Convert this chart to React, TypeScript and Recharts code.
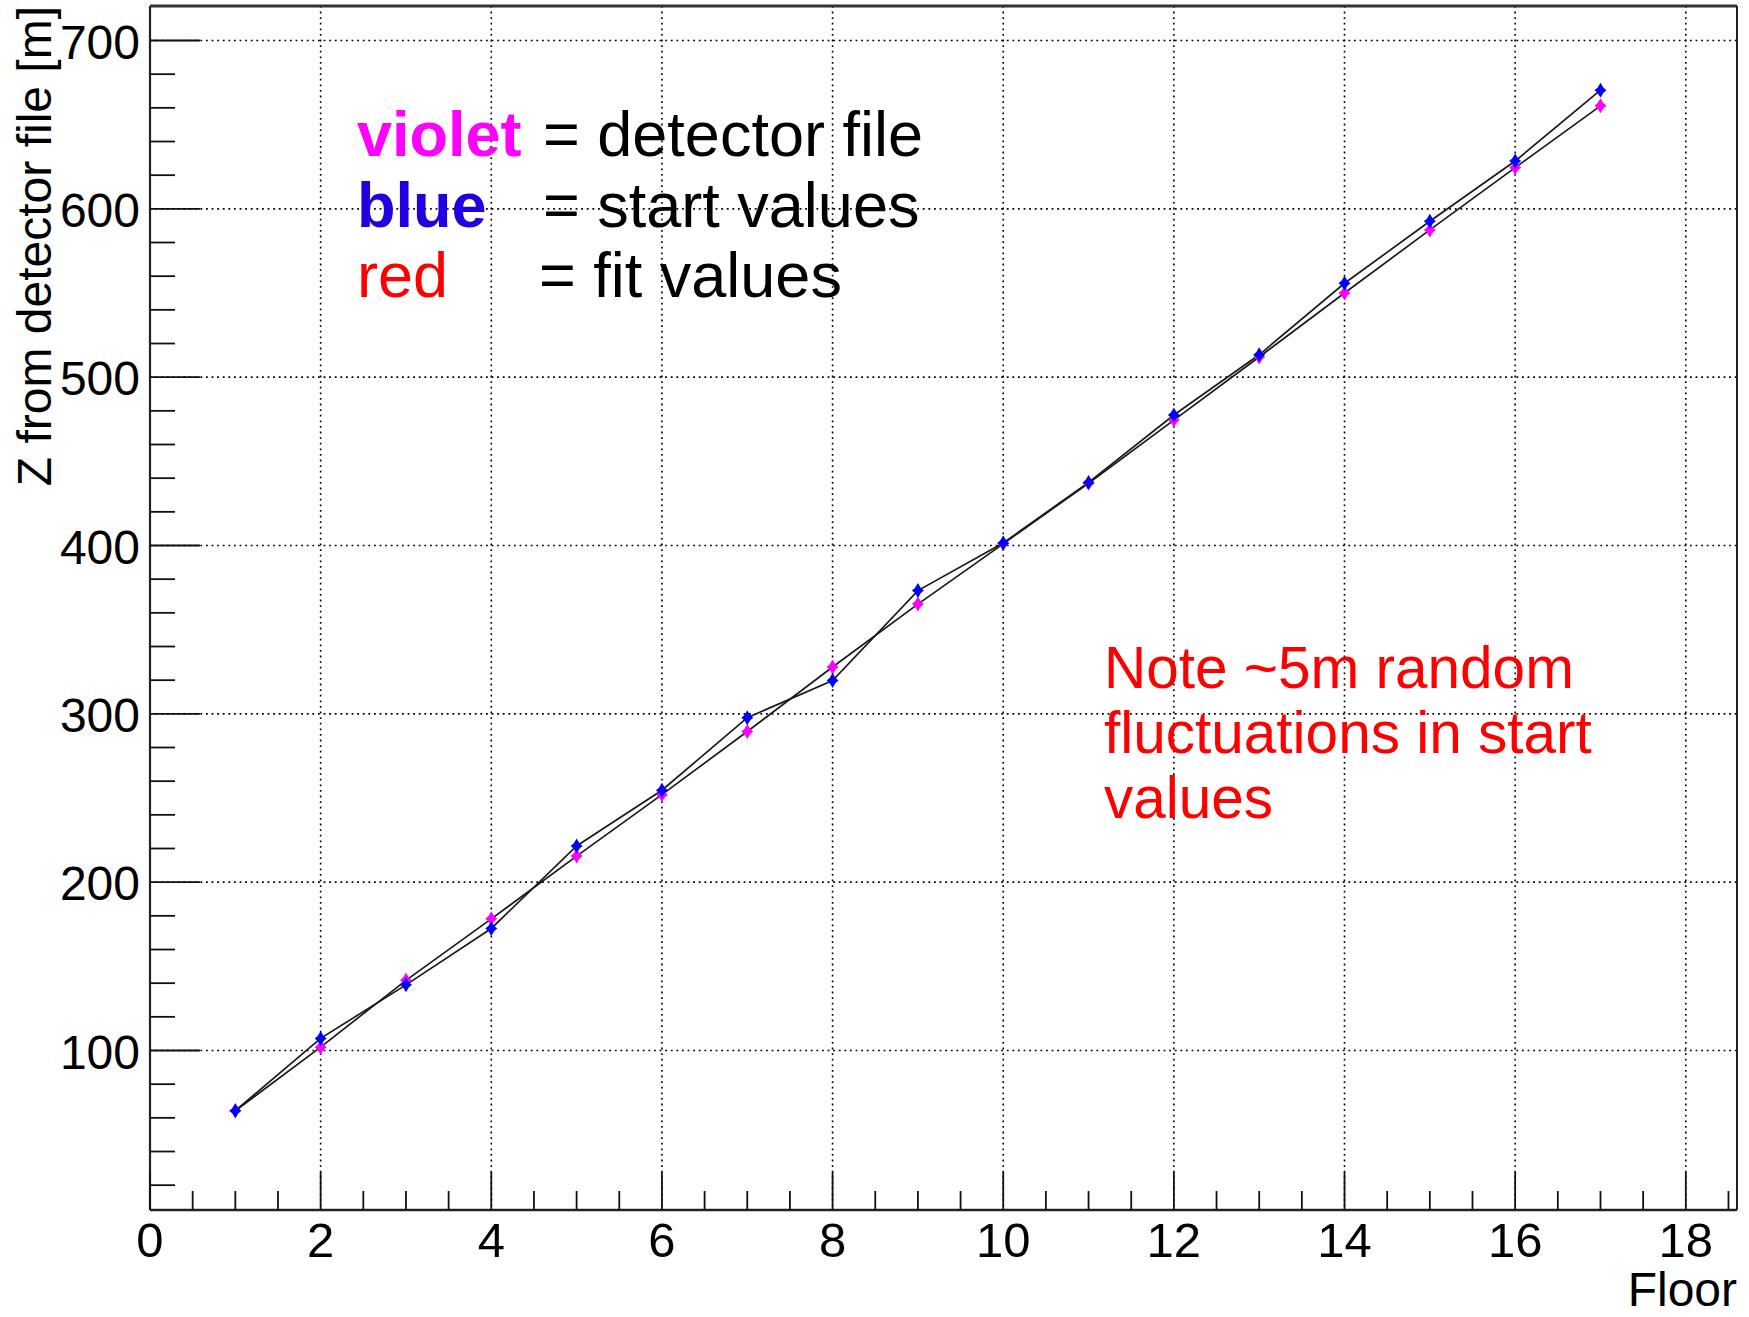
import React from 'react'
import {
  ComposedChart,
  Line,
  XAxis,
  YAxis,
  CartesianGrid,
  ReferenceLine,
} from 'recharts'

// etasje-nummer og Z-verdier lest av bildet
const floors = [1, 2, 3, 4, 5, 6, 7, 8, 9, 10, 11, 12, 13, 14, 15, 16, 17]
const detectorZ = [64.2, 102, 141.7, 178.2, 215.5, 252, 289.5, 327.8, 365.2, 401, 437, 474.5, 512, 550, 587.5, 624.5, 661.2]
const startZ = [64.2, 107.2, 139, 172.5, 221.5, 254.6, 297.7, 319.8, 373.2, 401.5, 437.5, 477.5, 513.3, 555.8, 592.6, 628.4, 670.5]

const xTicks = [0, 0.5, 1, 1.5, 2, 2.5, 3, 3.5, 4, 4.5, 5, 5.5, 6, 6.5, 7, 7.5, 8, 8.5, 9, 9.5, 10, 10.5, 11, 11.5, 12, 12.5, 13, 13.5, 14, 14.5, 15, 15.5, 16, 16.5, 17, 17.5, 18, 18.5]
const xMajor = [0, 2, 4, 6, 8, 10, 12, 14, 16, 18]
const yTicks = [20, 40, 60, 80, 100, 120, 140, 160, 180, 200, 220, 240, 260, 280, 300, 320, 340, 360, 380, 400, 420, 440, 460, 480, 500, 520, 540, 560, 580, 600, 620, 640, 660, 680, 700]
const yMajor = [100, 200, 300, 400, 500, 600, 700]

const X_DOMAIN: [number, number] = [0, 18.6]
const Y_DOMAIN: [number, number] = [5.25, 720.5]

const FONT = '"Liberation Sans", Arial, sans-serif'

const data = floors.map((f, i) => ({ floor: f, det: detectorZ[i], start: startZ[i] }))

function Marker({ cx, cy, farge }: { cx?: number; cy?: number; farge: string }) {
  if (cx == null || cy == null) return null
  return (
    <path
      d={`M${cx},${cy - 7.5} L${cx + 3},${cy - 2.5} L${cx + 6},${cy} L${cx + 3},${cy + 2.5} L${cx},${cy + 7.5} L${cx - 3},${cy + 2.5} L${cx - 6},${cy} L${cx - 3},${cy - 2.5} Z`}
      fill={farge}
    />
  )
}

function XTick(props: any) {
  const { x, y, payload } = props
  const major = xMajor.includes(payload.value)
  return (
    <g>
      <line x1={x} x2={x} y1={y} y2={y - (major ? 38 : 19)} stroke="#111" strokeWidth={1.8} />
      {major && (
        <text x={x} y={y + 47} textAnchor="middle" fontSize={49} fontFamily={FONT} fill="#000">
          {payload.value}
        </text>
      )}
    </g>
  )
}

function YTick(props: any) {
  const { x, y, payload } = props
  const major = yMajor.includes(payload.value)
  return (
    <g>
      <line x1={x} x2={x + (major ? 50 : 25)} y1={y} y2={y} stroke="#111" strokeWidth={1.8} />
      {major && (
        <text x={x - 10} y={y + 18} textAnchor="end" fontSize={48} fontFamily={FONT} fill="#000">
          {payload.value}
        </text>
      )}
    </g>
  )
}

export default function App() {
  return (
    <div style={{ position: 'absolute', left: 0, top: 0, width: 1749, height: 1317, background: '#fff' }}>
      <ComposedChart
        width={1749}
        height={1317}
        data={data}
        margin={{ top: 6, right: 12, bottom: 0, left: 1 }}
      >
        <CartesianGrid
          stroke="#000"
          strokeWidth={1.6}
          strokeDasharray="1.8 3.8"
          horizontalValues={yMajor}
          verticalValues={xMajor.filter((v) => v > 0)}
        />
        <XAxis
          dataKey="floor"
          type="number"
          domain={X_DOMAIN}
          allowDataOverflow
          ticks={xTicks}
          interval={0}
          height={107}
          tickSize={0}
          tickMargin={0}
          tickLine={false}
          axisLine={{ stroke: '#222', strokeWidth: 2.5 }}
          tick={XTick}
        />
        <YAxis
          type="number"
          domain={Y_DOMAIN}
          allowDataOverflow
          ticks={yTicks}
          interval={0}
          width={149}
          tickSize={0}
          tickMargin={0}
          tickLine={false}
          axisLine={{ stroke: '#222', strokeWidth: 2.2 }}
          tick={YTick}
        />
        <ReferenceLine y={Y_DOMAIN[1]} stroke="#333" strokeWidth={3} />
        <ReferenceLine x={X_DOMAIN[1]} stroke="#222" strokeWidth={2} />

        <Line
          dataKey="det"
          stroke="#1a1a1a"
          strokeWidth={1.7}
          isAnimationActive={false}
          dot={(p: any) => <Marker key={`d${p.index}`} cx={p.cx} cy={p.cy} farge="#ff00ff" />}
          activeDot={false}
        />
        <Line
          dataKey="start"
          stroke="#1a1a1a"
          strokeWidth={1.7}
          isAnimationActive={false}
          dot={(p: any) => <Marker key={`s${p.index}`} cx={p.cx} cy={p.cy} farge="#0000ff" />}
          activeDot={false}
        />

        {/* aksetitler */}
        <text x={1737} y={1306} textAnchor="end" fontSize={48} fontFamily={FONT} fill="#000">
          Floor
        </text>
        <text
          x={51}
          y={6}
          transform="rotate(-90 51 6)"
          textAnchor="end"
          fontSize={48}
          fontFamily={FONT}
          fill="#000"
        >
          Z from detector file [m]
        </text>

        {/* forklaring */}
        <g fontFamily={FONT} fontSize={63}>
          <text x={357} y={156} fill="#ff00ff" fontWeight="bold">violet</text>
          <text x={543} y={156} fill="#000">= detector file</text>
          <text x={357} y={227} fill="#2000e0" fontWeight="bold">blue</text>
          <text x={543} y={227} fill="#000">= start values</text>
          <text x={357} y={297} fill="#ff0000">red</text>
          <text x={539} y={297} fill="#000">= fit values</text>
        </g>

        <g fontFamily={FONT} fontSize={58.5} fill="#ff0000">
          <text x={1104} y={688}>Note ~5m random</text>
          <text x={1104} y={753}>fluctuations in start</text>
          <text x={1104} y={818}>values</text>
        </g>
      </ComposedChart>
    </div>
  )
}
